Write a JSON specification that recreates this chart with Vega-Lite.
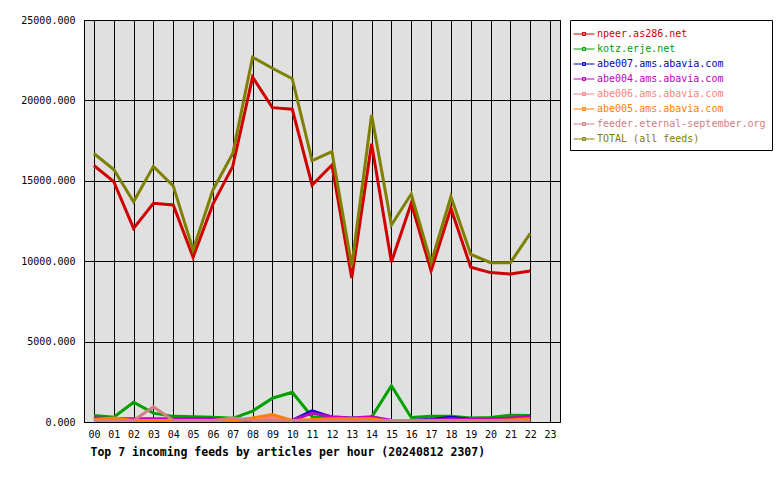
{
  "$schema": "https://vega.github.io/schema/vega-lite/v6.json",
  "autosize": {"type": "none"},
  "padding": {"left": 84, "top": 20, "right": 220, "bottom": 58},
  "width": 476,
  "height": 402,
  "background": "white",
  "config": {
    "view": {"fill": "#e0e0e0", "stroke": "black", "strokeWidth": 1},
    "axis": {"domain": false, "ticks": false, "grid": true, "gridColor": "black", "gridOpacity": 1, "gridWidth": 1,
      "labelFont": "DejaVu Sans Mono", "labelFontSize": 10, "labelColor": "black"},
    "legend": {"orient": "none", "legendX": 486, "legendY": 0, "strokeColor": "black", "fillColor": "white",
      "padding": 6, "symbolType": "M-1.4,0H1.4M-0.2,-0.2H0.2V0.2H-0.2Z", "symbolSize": 225, "symbolStrokeWidth": 1,
      "symbolFillColor": "transparent",
      "labelFont": "DejaVu Sans Mono", "labelFontSize": 10, "labelOffset": 5, "rowPadding": 2, "labelLimit": 0}
  },
  "data": {"values": [
    {"h":"00","s":"npeer.as286.net","v":15950},{"h":"01","s":"npeer.as286.net","v":14950},{"h":"02","s":"npeer.as286.net","v":12040},{"h":"03","s":"npeer.as286.net","v":13600},{"h":"04","s":"npeer.as286.net","v":13500},{"h":"05","s":"npeer.as286.net","v":10250},{"h":"06","s":"npeer.as286.net","v":13550},{"h":"07","s":"npeer.as286.net","v":15900},{"h":"08","s":"npeer.as286.net","v":21450},{"h":"09","s":"npeer.as286.net","v":19550},{"h":"10","s":"npeer.as286.net","v":19450},{"h":"11","s":"npeer.as286.net","v":14740},{"h":"12","s":"npeer.as286.net","v":15980},{"h":"13","s":"npeer.as286.net","v":8950},{"h":"14","s":"npeer.as286.net","v":17300},{"h":"15","s":"npeer.as286.net","v":9950},{"h":"16","s":"npeer.as286.net","v":13600},{"h":"17","s":"npeer.as286.net","v":9400},{"h":"18","s":"npeer.as286.net","v":13290},{"h":"19","s":"npeer.as286.net","v":9620},{"h":"20","s":"npeer.as286.net","v":9290},{"h":"21","s":"npeer.as286.net","v":9200},{"h":"22","s":"npeer.as286.net","v":9390},
    {"h":"00","s":"kotz.erje.net","v":400},{"h":"01","s":"kotz.erje.net","v":300},{"h":"02","s":"kotz.erje.net","v":1230},{"h":"03","s":"kotz.erje.net","v":550},{"h":"04","s":"kotz.erje.net","v":350},{"h":"05","s":"kotz.erje.net","v":320},{"h":"06","s":"kotz.erje.net","v":300},{"h":"07","s":"kotz.erje.net","v":230},{"h":"08","s":"kotz.erje.net","v":680},{"h":"09","s":"kotz.erje.net","v":1480},{"h":"10","s":"kotz.erje.net","v":1850},{"h":"11","s":"kotz.erje.net","v":330},{"h":"12","s":"kotz.erje.net","v":250},{"h":"13","s":"kotz.erje.net","v":250},{"h":"14","s":"kotz.erje.net","v":300},{"h":"15","s":"kotz.erje.net","v":2250},{"h":"16","s":"kotz.erje.net","v":280},{"h":"17","s":"kotz.erje.net","v":350},{"h":"18","s":"kotz.erje.net","v":350},{"h":"19","s":"kotz.erje.net","v":250},{"h":"20","s":"kotz.erje.net","v":280},{"h":"21","s":"kotz.erje.net","v":420},{"h":"22","s":"kotz.erje.net","v":400},
    {"h":"00","s":"abe007.ams.abavia.com","v":150},{"h":"01","s":"abe007.ams.abavia.com","v":150},{"h":"02","s":"abe007.ams.abavia.com","v":150},{"h":"03","s":"abe007.ams.abavia.com","v":150},{"h":"04","s":"abe007.ams.abavia.com","v":150},{"h":"05","s":"abe007.ams.abavia.com","v":150},{"h":"06","s":"abe007.ams.abavia.com","v":150},{"h":"07","s":"abe007.ams.abavia.com","v":50},{"h":"08","s":"abe007.ams.abavia.com","v":100},{"h":"09","s":"abe007.ams.abavia.com","v":100},{"h":"10","s":"abe007.ams.abavia.com","v":100},{"h":"11","s":"abe007.ams.abavia.com","v":700},{"h":"12","s":"abe007.ams.abavia.com","v":300},{"h":"13","s":"abe007.ams.abavia.com","v":200},{"h":"14","s":"abe007.ams.abavia.com","v":200},{"h":"15","s":"abe007.ams.abavia.com","v":100},{"h":"16","s":"abe007.ams.abavia.com","v":100},{"h":"17","s":"abe007.ams.abavia.com","v":150},{"h":"18","s":"abe007.ams.abavia.com","v":300},{"h":"19","s":"abe007.ams.abavia.com","v":150},{"h":"20","s":"abe007.ams.abavia.com","v":150},{"h":"21","s":"abe007.ams.abavia.com","v":200},{"h":"22","s":"abe007.ams.abavia.com","v":250},
    {"h":"00","s":"abe004.ams.abavia.com","v":250},{"h":"01","s":"abe004.ams.abavia.com","v":220},{"h":"02","s":"abe004.ams.abavia.com","v":200},{"h":"03","s":"abe004.ams.abavia.com","v":200},{"h":"04","s":"abe004.ams.abavia.com","v":200},{"h":"05","s":"abe004.ams.abavia.com","v":200},{"h":"06","s":"abe004.ams.abavia.com","v":200},{"h":"07","s":"abe004.ams.abavia.com","v":50},{"h":"08","s":"abe004.ams.abavia.com","v":100},{"h":"09","s":"abe004.ams.abavia.com","v":100},{"h":"10","s":"abe004.ams.abavia.com","v":100},{"h":"11","s":"abe004.ams.abavia.com","v":560},{"h":"12","s":"abe004.ams.abavia.com","v":330},{"h":"13","s":"abe004.ams.abavia.com","v":250},{"h":"14","s":"abe004.ams.abavia.com","v":330},{"h":"15","s":"abe004.ams.abavia.com","v":100},{"h":"16","s":"abe004.ams.abavia.com","v":100},{"h":"17","s":"abe004.ams.abavia.com","v":120},{"h":"18","s":"abe004.ams.abavia.com","v":200},{"h":"19","s":"abe004.ams.abavia.com","v":150},{"h":"20","s":"abe004.ams.abavia.com","v":150},{"h":"21","s":"abe004.ams.abavia.com","v":250},{"h":"22","s":"abe004.ams.abavia.com","v":350},
    {"h":"00","s":"abe006.ams.abavia.com","v":100},{"h":"01","s":"abe006.ams.abavia.com","v":100},{"h":"02","s":"abe006.ams.abavia.com","v":100},{"h":"03","s":"abe006.ams.abavia.com","v":100},{"h":"04","s":"abe006.ams.abavia.com","v":100},{"h":"05","s":"abe006.ams.abavia.com","v":100},{"h":"06","s":"abe006.ams.abavia.com","v":100},{"h":"07","s":"abe006.ams.abavia.com","v":100},{"h":"08","s":"abe006.ams.abavia.com","v":150},{"h":"09","s":"abe006.ams.abavia.com","v":300},{"h":"10","s":"abe006.ams.abavia.com","v":100},{"h":"11","s":"abe006.ams.abavia.com","v":100},{"h":"12","s":"abe006.ams.abavia.com","v":100},{"h":"13","s":"abe006.ams.abavia.com","v":100},{"h":"14","s":"abe006.ams.abavia.com","v":100},{"h":"15","s":"abe006.ams.abavia.com","v":100},{"h":"16","s":"abe006.ams.abavia.com","v":100},{"h":"17","s":"abe006.ams.abavia.com","v":100},{"h":"18","s":"abe006.ams.abavia.com","v":100},{"h":"19","s":"abe006.ams.abavia.com","v":100},{"h":"20","s":"abe006.ams.abavia.com","v":100},{"h":"21","s":"abe006.ams.abavia.com","v":100},{"h":"22","s":"abe006.ams.abavia.com","v":100},
    {"h":"00","s":"abe005.ams.abavia.com","v":150},{"h":"01","s":"abe005.ams.abavia.com","v":250},{"h":"02","s":"abe005.ams.abavia.com","v":100},{"h":"03","s":"abe005.ams.abavia.com","v":50},{"h":"04","s":"abe005.ams.abavia.com","v":50},{"h":"05","s":"abe005.ams.abavia.com","v":50},{"h":"06","s":"abe005.ams.abavia.com","v":50},{"h":"07","s":"abe005.ams.abavia.com","v":100},{"h":"08","s":"abe005.ams.abavia.com","v":250},{"h":"09","s":"abe005.ams.abavia.com","v":470},{"h":"10","s":"abe005.ams.abavia.com","v":100},{"h":"11","s":"abe005.ams.abavia.com","v":150},{"h":"12","s":"abe005.ams.abavia.com","v":200},{"h":"13","s":"abe005.ams.abavia.com","v":200},{"h":"14","s":"abe005.ams.abavia.com","v":200},{"h":"15","s":"abe005.ams.abavia.com","v":50},{"h":"16","s":"abe005.ams.abavia.com","v":50},{"h":"17","s":"abe005.ams.abavia.com","v":50},{"h":"18","s":"abe005.ams.abavia.com","v":50},{"h":"19","s":"abe005.ams.abavia.com","v":50},{"h":"20","s":"abe005.ams.abavia.com","v":100},{"h":"21","s":"abe005.ams.abavia.com","v":120},{"h":"22","s":"abe005.ams.abavia.com","v":200},
    {"h":"00","s":"feeder.eternal-september.org","v":100},{"h":"01","s":"feeder.eternal-september.org","v":100},{"h":"02","s":"feeder.eternal-september.org","v":100},{"h":"03","s":"feeder.eternal-september.org","v":950},{"h":"04","s":"feeder.eternal-september.org","v":100},{"h":"05","s":"feeder.eternal-september.org","v":100},{"h":"06","s":"feeder.eternal-september.org","v":100},{"h":"07","s":"feeder.eternal-september.org","v":250},{"h":"08","s":"feeder.eternal-september.org","v":100},{"h":"09","s":"feeder.eternal-september.org","v":100},{"h":"10","s":"feeder.eternal-september.org","v":100},{"h":"11","s":"feeder.eternal-september.org","v":100},{"h":"12","s":"feeder.eternal-september.org","v":100},{"h":"13","s":"feeder.eternal-september.org","v":100},{"h":"14","s":"feeder.eternal-september.org","v":100},{"h":"15","s":"feeder.eternal-september.org","v":100},{"h":"16","s":"feeder.eternal-september.org","v":100},{"h":"17","s":"feeder.eternal-september.org","v":100},{"h":"18","s":"feeder.eternal-september.org","v":100},{"h":"19","s":"feeder.eternal-september.org","v":100},{"h":"20","s":"feeder.eternal-september.org","v":100},{"h":"21","s":"feeder.eternal-september.org","v":100},{"h":"22","s":"feeder.eternal-september.org","v":100},
    {"h":"00","s":"TOTAL (all feeds)","v":16700},{"h":"01","s":"TOTAL (all feeds)","v":15700},{"h":"02","s":"TOTAL (all feeds)","v":13700},{"h":"03","s":"TOTAL (all feeds)","v":15900},{"h":"04","s":"TOTAL (all feeds)","v":14680},{"h":"05","s":"TOTAL (all feeds)","v":10700},{"h":"06","s":"TOTAL (all feeds)","v":14430},{"h":"07","s":"TOTAL (all feeds)","v":16700},{"h":"08","s":"TOTAL (all feeds)","v":22680},{"h":"09","s":"TOTAL (all feeds)","v":22000},{"h":"10","s":"TOTAL (all feeds)","v":21350},{"h":"11","s":"TOTAL (all feeds)","v":16250},{"h":"12","s":"TOTAL (all feeds)","v":16810},{"h":"13","s":"TOTAL (all feeds)","v":9700},{"h":"14","s":"TOTAL (all feeds)","v":19100},{"h":"15","s":"TOTAL (all feeds)","v":12250},{"h":"16","s":"TOTAL (all feeds)","v":14180},{"h":"17","s":"TOTAL (all feeds)","v":9900},{"h":"18","s":"TOTAL (all feeds)","v":14010},{"h":"19","s":"TOTAL (all feeds)","v":10430},{"h":"20","s":"TOTAL (all feeds)","v":9910},{"h":"21","s":"TOTAL (all feeds)","v":9910},{"h":"22","s":"TOTAL (all feeds)","v":11730}
  ]},
  "mark": {"type": "line", "strokeWidth": 3, "strokeJoin": "miter", "clip": true},
  "encoding": {
    "x": {"field": "h", "type": "ordinal",
      "scale": {"type": "point", "padding": 0.5, "domain": ["00","01","02","03","04","05","06","07","08","09","10","11","12","13","14","15","16","17","18","19","20","21","22","23"]},
      "axis": {"labelAngle": 0, "labelPadding": 7, "title": "Top 7 incoming feeds by articles per hour (20240812 2307)",
        "titleFont": "DejaVu Sans Mono", "titleFontSize": 11.5, "titleFontWeight": "bold", "titleColor": "black",
        "titleAnchor": "start", "titleAlign": "left", "titleX": 6, "titleY": 33, "titleBaseline": "alphabetic"}},
    "y": {"field": "v", "type": "quantitative",
      "scale": {"domain": [0, 25000], "nice": false},
      "axis": {"values": [0, 5000, 10000, 15000, 20000, 25000], "format": ".3f", "labelPadding": 9, "title": null}},
    "color": {"field": "s", "type": "nominal",
      "scale": {"domain": ["npeer.as286.net","kotz.erje.net","abe007.ams.abavia.com","abe004.ams.abavia.com","abe006.ams.abavia.com","abe005.ams.abavia.com","feeder.eternal-september.org","TOTAL (all feeds)"],
        "range": ["#d00000","#00a000","#0000d0","#c000c0","#ff8080","#ff8000","#d08080","#808000"]},
      "legend": {"title": null, "encode": {"labels": {"update": {"fill": {"scale": "color", "field": "value"}}}}}}
  }
}
